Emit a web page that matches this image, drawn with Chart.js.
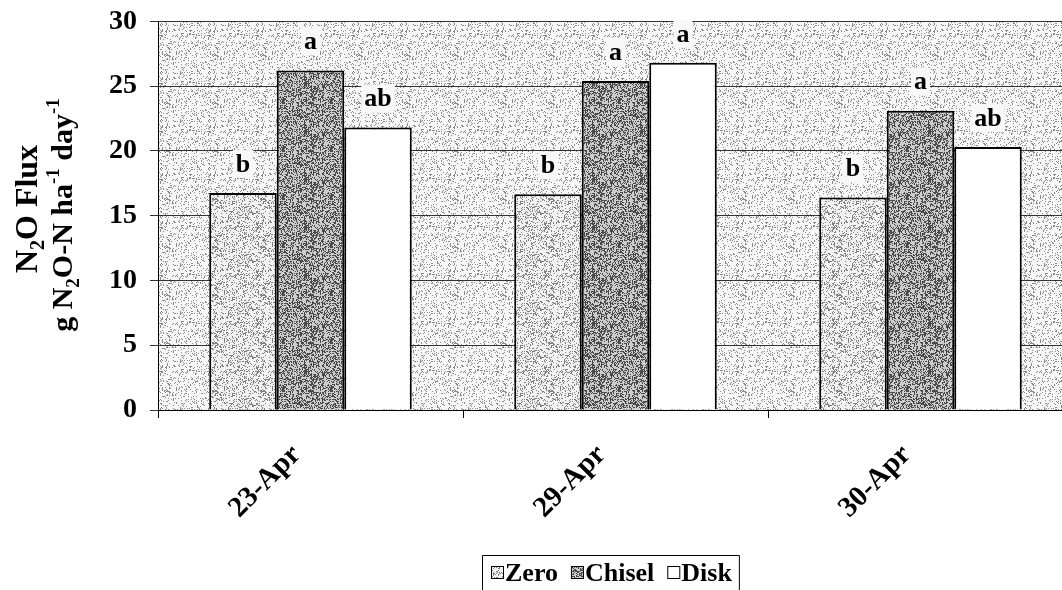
<!DOCTYPE html>
<html>
<head>
<meta charset="utf-8">
<script src="https://cdn.jsdelivr.net/npm/chart.js@4.4.1/dist/chart.umd.min.js"></script>
<style>
  html, body { margin: 0; padding: 0; background: #fff; }
  #wrap { width: 1062px; height: 590px; position: relative; overflow: hidden; }
</style>
</head>
<body>
<!-- canvas a bit wider than the page: the plot area runs off the right edge like the original -->
<div id="wrap"><canvas id="c" width="1073" height="590"></canvas></div>
<script>
const dates = ["23-Apr", "29-Apr", "30-Apr"];
const seriesNames = ["Zero", "Chisel", "Disk"];
const zeroFlux = [16.75, 16.65, 16.4];
const chiselFlux = [26.2, 25.4, 23.1];
const diskFlux = [21.8, 26.8, 20.3];
const zeroLetters = ["b", "b", "b"];
const chiselLetters = ["a", "a", "a"];
const diskLetters = ["ab", "a", "ab"];
const yTicks = [0, 5, 10, 15, 20, 25, 30];

const SERIF = '"Liberation Serif", "Times New Roman", serif';

// speckled fill textures, hashed so they look like the printed stipple
function stipple(light, dark, density) {
  const n = 48;
  const t = document.createElement("canvas");
  t.width = n; t.height = n;
  const g = t.getContext("2d");
  g.fillStyle = light; g.fillRect(0, 0, n, n);
  g.fillStyle = dark;
  for (let y = 0; y < n; y++)
    for (let x = 0; x < n; x++) {
      let h = Math.imul(x + 1, 73856093) ^ Math.imul(y + 1, 19349663);
      h = Math.imul(h ^ (h >>> 13), 1274126177);
      h ^= h >>> 16;
      if (((h >>> 0) & 255) / 255 < density) g.fillRect(x, y, 1, 1);
    }
  return g.createPattern(t, "repeat");
}
const ctx = document.getElementById("c").getContext("2d");
const bgFill = stipple("#f7f7f7", "#8a8a8a", 0.17);
const zeroFill = stipple("#f2f2f2", "#808080", 0.24);
const chiselFill = stipple("#cdcdcd", "#4a4a4a", 0.42);
const diskFill = "#ffffff";

const fills = [zeroFill, chiselFill, diskFill];
const letters = [zeroLetters, chiselLetters, diskLetters];

const plotBg = {
  id: "plotBg",
  beforeDraw(chart) {
    const a = chart.chartArea, c = chart.ctx;
    c.save();
    c.fillStyle = bgFill;
    c.fillRect(a.left, a.top, a.right - a.left, a.bottom - a.top);
    c.restore();
  }
};

const letterLabels = {
  id: "letterLabels",
  afterDatasetsDraw(chart) {
    const c = chart.ctx;
    c.save();
    c.font = "bold 26px " + SERIF;
    c.textAlign = "center";
    c.textBaseline = "middle";
    chart.data.datasets.forEach((ds, i) => {
      chart.getDatasetMeta(i).data.forEach((bar, j) => {
        const txt = letters[i][j];
        const w = c.measureText(txt).width;
        const y = bar.y - 29;
        c.fillStyle = "#f8f8f8";
        c.fillRect(bar.x - w / 2 - 3, y - 14, w + 6, 28);
        c.fillStyle = "#000";
        c.fillText(txt, bar.x, y + 1);
      });
    });
    c.restore();
  }
};

// rich text runs: [text, kind] where kind is "n", "sub" or "sup"
function drawRuns(c, runs, baseX, cy, size) {
  const small = Math.round(size * 0.62);
  const fontFor = k => "bold " + (k === "n" ? size : small) + "px " + SERIF;
  let total = 0;
  runs.forEach(r => { c.font = fontFor(r[1]); total += c.measureText(r[0]).width; });
  c.save();
  c.translate(baseX, cy);
  c.rotate(-Math.PI / 2);
  let x = -total / 2;
  c.textBaseline = "alphabetic";
  c.textAlign = "left";
  c.fillStyle = "#000";
  runs.forEach(r => {
    c.font = fontFor(r[1]);
    const dy = r[1] === "sub" ? size * 0.22 : r[1] === "sup" ? -size * 0.42 : 0;
    c.fillText(r[0], x, dy);
    x += c.measureText(r[0]).width;
  });
  c.restore();
}

const yTitle = {
  id: "yTitle",
  afterDraw(chart) {
    const c = chart.ctx;
    drawRuns(c, [["N", "n"], ["2", "sub"], ["O Flux", "n"]], 37, 209, 32);
    drawRuns(c, [["g N", "n"], ["2", "sub"], ["O-N ha", "n"], ["-1", "sup"], [" day", "n"], ["-1", "sup"]], 72, 215, 30);
  }
};

const boxLegend = {
  id: "boxLegend",
  afterDraw(chart) {
    const c = chart.ctx;
    c.save();
    c.font = "bold 26px " + SERIF;
    c.textBaseline = "middle";
    let x = 491;
    const y = 573;
    seriesNames.forEach((name, i) => {
      c.fillStyle = fills[i];
      c.fillRect(x, y - 7, 13, 13);
      c.strokeStyle = "#000";
      c.lineWidth = 1;
      c.strokeRect(x + 0.5, y - 6.5, 12, 12);
      c.fillStyle = "#000";
      c.fillText(name, x + 14, y + 1);
      x += 14 + c.measureText(name).width + 13;
    });
    c.strokeStyle = "#000";
    c.lineWidth = 1;
    c.beginPath();
    c.moveTo(482.5, 600);
    c.lineTo(482.5, 555.5);
    c.lineTo(x - 6 + 0.5, 555.5);
    c.lineTo(x - 6 + 0.5, 600);
    c.stroke();
    c.restore();
  }
};

new Chart(ctx, {
  type: "bar",
  data: {
    labels: dates,
    datasets: [zeroFlux, chiselFlux, diskFlux].map((d, i) => ({
      label: seriesNames[i],
      data: d,
      backgroundColor: fills[i],
      borderColor: "#000",
      borderWidth: 2,
      borderSkipped: "start",
      categoryPercentage: 0.664,
      barPercentage: 1.0,
    })),
  },
  options: {
    responsive: false,
    animation: false,
    layout: { padding: { top: 0, right: 0, bottom: 0, left: 0 } },
    plugins: { legend: { display: false }, tooltip: { enabled: false } },
    scales: {
      x: {
        afterFit: s => { s.height = 180; },
        grid: { drawOnChartArea: false, drawTicks: true, tickLength: 8, color: "#000", offset: true },
        border: { color: "#000", width: 1 },
        ticks: {
          color: "#000",
          font: { family: SERIF, size: 29, weight: "bold" },
          minRotation: 45, maxRotation: 45, padding: 20, labelOffset: -14,
        },
      },
      y: {
        min: 0, max: 30,
        afterFit: s => { s.width = 158; },
        afterBuildTicks: s => { s.ticks = yTicks.map(v => ({ value: v })); },
        grid: { color: "#333333", lineWidth: 1, tickLength: 8, drawTicks: true },
        border: { color: "#000", width: 1 },
        ticks: {
          color: "#000",
          padding: 13,
          font: { family: SERIF, size: 28, weight: "bold", lineHeight: 0.6 },
        },
      },
    },
  },
  plugins: [plotBg, letterLabels, yTitle, boxLegend],
});
</script>
</body>
</html>
